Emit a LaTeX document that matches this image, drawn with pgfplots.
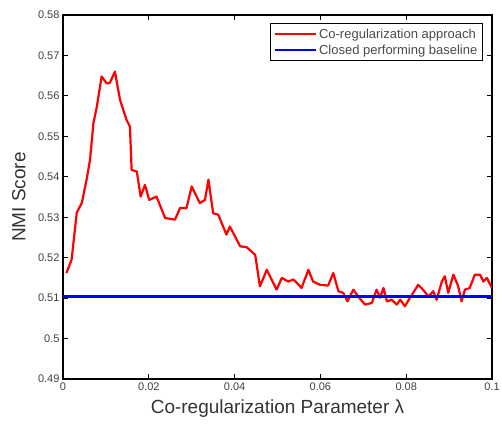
\documentclass[border=0pt]{standalone}
\usepackage{pgfplots}
\pgfplotsset{compat=1.18}
\usepackage{fontspec}
\setmainfont{Liberation Sans}
\begin{document}
\begin{tikzpicture}
\useasboundingbox (-63pt,-44pt) rectangle (439pt,379pt);
\begin{axis}[
  at={(0,0)}, anchor=south west,
  width=429pt, height=364pt, scale only axis,
  xmin=0, xmax=0.1, ymin=0.49, ymax=0.58,
  xtick={0,0.02,0.04,0.06,0.08,0.1},
  xticklabels={0,0.02,0.04,0.06,0.08,0.1},
  ytick={0.49,0.50,0.51,0.52,0.53,0.54,0.55,0.56,0.57,0.58},
  yticklabels={0.49,0.5,0.51,0.52,0.53,0.54,0.55,0.56,0.57,0.58},
  scaled ticks=false,
  /pgf/number format/assume math mode=true,
  tick align=inside, major tick length=5pt,
  tick style={black, line width=0.8pt},
  axis line style={black, line width=1.6pt},
  ticklabel style={font=\fontsize{11}{12}\selectfont, text=black!75},
  xlabel={Co-regularization Parameter λ},
  ylabel={NMI Score},
  label style={font=\fontsize{19}{21}\selectfont, text=black!80},
  xlabel style={at={(axis description cs:0.5,-0.08)}, anchor=center},
  ylabel style={at={(axis description cs:-0.103,0.5)}, anchor=center},
  legend style={at={(1,1)}, anchor=north east, xshift=-9pt, yshift=-8pt,
    draw=black, line width=1.4pt, font=\fontsize{13}{15}\selectfont,
    text=black!70, inner xsep=3pt, inner ysep=3pt, row sep=1pt, legend cell align=left},
  legend image code/.code={\draw[#1, line width=2pt] (0cm,0cm) -- (1.45cm,0cm);},
]
\addplot[red, line width=2.2pt, line join=round] coordinates {
(0.0008,0.5162) (0.0020,0.5195) (0.0032,0.5311) (0.0044,0.5336)
(0.0055,0.5393) (0.0063,0.5442) (0.0071,0.5533) (0.0079,0.5574)
(0.0090,0.5648) (0.0102,0.5631) (0.0109,0.5632) (0.0121,0.5660)
(0.0133,0.5590) (0.0148,0.5541) (0.0156,0.5524) (0.0160,0.5417)
(0.0172,0.5413) (0.0181,0.5351) (0.0191,0.5380) (0.0201,0.5343)
(0.0218,0.5351) (0.0238,0.5298) (0.0261,0.5294) (0.0273,0.5323)
(0.0288,0.5323) (0.0300,0.5376) (0.0319,0.5335) (0.0331,0.5343)
(0.0339,0.5393) (0.0350,0.5310) (0.0362,0.5306) (0.0381,0.5257)
(0.0389,0.5277) (0.0413,0.5228) (0.0428,0.5226) (0.0448,0.5207)
(0.0459,0.5129) (0.0475,0.5170) (0.0490,0.5138) (0.0498,0.5121)
(0.0510,0.5150) (0.0525,0.5141) (0.0537,0.5146) (0.0545,0.5138)
(0.0556,0.5125) (0.0572,0.5170) (0.0583,0.5141) (0.0599,0.5133)
(0.0618,0.5131) (0.0630,0.5162) (0.0642,0.5117) (0.0653,0.5113)
(0.0663,0.5092) (0.0677,0.5121) (0.0688,0.5104) (0.0704,0.5084)
(0.0720,0.5088) (0.0731,0.5121) (0.0739,0.5101) (0.0747,0.5125)
(0.0755,0.5092) (0.0766,0.5096) (0.0778,0.5084) (0.0786,0.5096)
(0.0797,0.5080) (0.0809,0.5101) (0.0828,0.5133) (0.0839,0.5121)
(0.0852,0.5104) (0.0863,0.5117) (0.0871,0.5096) (0.0883,0.5141)
(0.0890,0.5154) (0.0898,0.5113) (0.0910,0.5158) (0.0921,0.5130)
(0.0929,0.5092) (0.0937,0.5121) (0.0948,0.5125) (0.0960,0.5158)
(0.0972,0.5158) (0.0980,0.5141) (0.0988,0.5150) (0.1000,0.5125)
};
\addlegendentry{Co-regularization approach}
\addplot[blue, line width=2.6pt] coordinates {(0,0.5104) (0.1,0.5104)};
\addlegendentry{Closed performing baseline}
\end{axis}
\end{tikzpicture}
\end{document}
